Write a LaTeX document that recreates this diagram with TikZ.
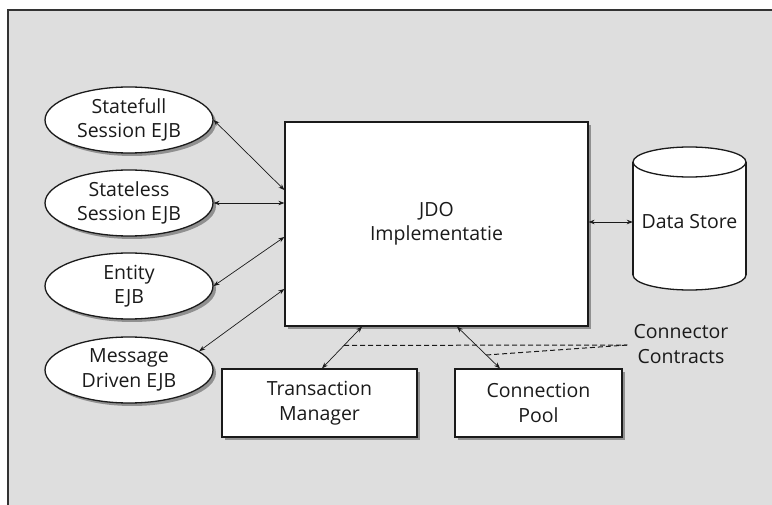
\documentclass[tikz,border=0pt]{standalone}
\usepackage{fontspec}
\setmainfont{Open Sans}
\usetikzlibrary{shapes.geometric,shadows,arrows.meta,calc}
\definecolor{panel}{HTML}{DEDEDE}
\definecolor{ink}{HTML}{1A1A1A}
\begin{document}
\begin{tikzpicture}[x=1pt,y=-1pt,
  lbl/.style={font=\fontsize{19.5}{24.5}\selectfont, text=ink, align=center},
  box/.style={lbl, draw=ink, line width=1.3pt, fill=white,
    drop shadow={shadow xshift=3pt, shadow yshift=-3pt, fill=black, opacity=0.35}},
  ejb/.style={box, ellipse, minimum width=168pt, minimum height=66pt, inner sep=0pt},
  block/.style={box, rectangle, inner sep=0pt},
  arr/.style={{Stealth[length=6pt,width=4.5pt]}-{Stealth[length=6pt,width=4.5pt]},
    line width=0.7pt, draw=ink},
  contract/.style={dash pattern=on 5pt off 3pt, line width=1pt, draw=ink}]

\useasboundingbox (0,0) rectangle (772,505);
% panel with its top and left rules
\fill[panel] (8,10) rectangle (772,505);
\draw[line width=2.2pt, draw=black!80] (8,505) -- (8,10) -- (772,10);

% enterprise beans
\node[ejb] (sf) at (129,120) {Statefull\\Session EJB};
\node[ejb] (sl) at (129,203) {Stateless\\Session EJB};
\node[ejb] (en) at (129,286) {Entity\\EJB};
\node[ejb] (md) at (129,370) {Message\\Driven EJB};

% JDO core
\node[block, minimum width=303pt, minimum height=204pt] (jdo) at (436.5,224) {JDO\\Implementatie};

% resources below
\node[block, minimum width=195pt, minimum height=68pt] (tm) at (319.5,403) {Transaction\\Manager};
\node[block, minimum width=167pt, minimum height=68pt] (cp) at (538.5,403) {Connection\\Pool};

% data store cylinder
\fill[white] (633,162) rectangle (746,275);
\fill[white] (689.5,275) ellipse [x radius=56.5, y radius=15];
\fill[white] (689.5,162) ellipse [x radius=56.5, y radius=15];
\draw[draw=ink, line width=1.3pt] (633,162) -- (633,275) (746,162) -- (746,275);
\draw[draw=ink, line width=1.3pt] (689.5,162) ellipse [x radius=56.5, y radius=15];
\begin{scope}
  \clip (628,275) rectangle (751,296);
  \draw[draw=ink, line width=1.3pt] (689.5,275) ellipse [x radius=56.5, y radius=15];
\end{scope}
\node[lbl, minimum width=113pt, minimum height=143pt, inner sep=0pt] (ds) at (689.5,222) {Data Store};

% label for the contracts
\node[lbl, inner sep=0pt] (cc) at (681,344) {Connector\\Contracts};
\coordinate (ccend) at ($(cc.west)+(-6,1)$);

% bean connections
\draw[arr] (sf.east) -- ($(jdo.west)+(0,-34)$);
\draw[arr] (sl.east) -- (jdo.west |- sl.east);
\draw[arr] (en.east) -- ($(jdo.west)+(0,13)$);
\draw[arr] (md.15) -- ($(jdo.west)+(0,65)$);

% storage
\draw[arr] (jdo.east |- ds.west) -- (ds.west);

% resource connections
\draw[arr] ($(jdo.south)+(-74.5,0)$) -- ($(tm.north)+(2.5,0)$) coordinate[pos=0.45] (tmc);
\draw[arr] ($(jdo.south)+(20.5,0)$) -- ($(cp.north)+(-38.5,0)$) coordinate[pos=0.68] (cpc);

% connector contracts
\draw[contract] (tmc) -- (ccend);
\draw[contract] (cpc) -- (ccend);
\end{tikzpicture}
\end{document}
